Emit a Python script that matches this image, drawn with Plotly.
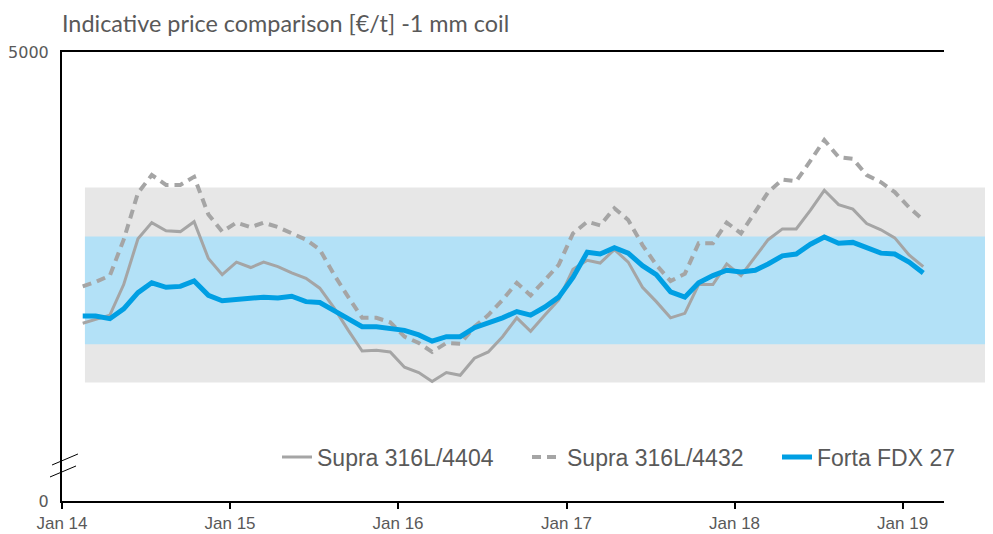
import pandas as pd
import plotly.graph_objects as go

# Monthly observations (mid-month), Feb 2014 - Feb 2019
dates = pd.date_range("2014-02-01", "2019-02-01", freq="MS") + pd.Timedelta(days=14)

supra_4404 = [1980, 2020, 2070, 2410, 2920, 3100, 3010, 3000, 3110, 2700,
              2520, 2660, 2600, 2660, 2610, 2540, 2480, 2370, 2150, 1900,
              1670, 1680, 1660, 1490, 1430, 1330, 1430, 1400, 1590, 1660,
              1830, 2040, 1890, 2070, 2240, 2580, 2680, 2650, 2800, 2660,
              2380, 2220, 2040, 2090, 2410, 2410, 2640, 2510, 2720, 2910,
              3030, 3030, 3240, 3460, 3300, 3250, 3090, 3020, 2930, 2740, 2610]

supra_4432 = [2390, 2440, 2510, 2910, 3430, 3630, 3520, 3520, 3610, 3190,
              3000, 3100, 3050, 3100, 3050, 2980, 2910, 2800, 2520, 2270,
              2040, 2040, 1990, 1830, 1760, 1660, 1760, 1750, 1940, 2070,
              2240, 2430, 2290, 2460, 2630, 2980, 3110, 3070, 3260, 3130,
              2850, 2630, 2450, 2530, 2870, 2870, 3100, 2980, 3220, 3440,
              3580, 3560, 3790, 4020, 3830, 3810, 3630, 3550, 3440, 3270, 3130]

forta_fdx27 = [2060, 2060, 2030, 2140, 2320, 2430, 2380, 2390, 2450, 2290,
               2230, 2240, 2250, 2270, 2260, 2280, 2220, 2210, 2120, 2030,
               1940, 1940, 1920, 1900, 1850, 1780, 1830, 1830, 1930, 1980,
               2040, 2110, 2070, 2160, 2270, 2490, 2770, 2750, 2820, 2760,
               2620, 2520, 2330, 2270, 2430, 2510, 2570, 2550, 2570, 2640,
               2730, 2750, 2860, 2940, 2870, 2880, 2820, 2760, 2750, 2660, 2540]

series_names = ["Supra 316L/4404", "Supra 316L/4432", "Forta FDX 27"]

# Price corridors
gray_band = [1320, 3490]
blue_band = [1745, 2945]

y_ticks = [0, 5000]
y_tick_text = ["0", "5000"]

GRAY = "#a5a5a5"
BLUE = "#009fe3"
TXT = "#595959"

# page body has an 8px default margin -> compensate
OFF = 8
W, H = 993, 534
PL, PT, PW, PH = 62 - OFF, 52 - OFF, 882, 449

fig = go.Figure()
fig.add_trace(go.Scatter(x=dates, y=supra_4404, mode="lines", name=series_names[0],
                         line=dict(color=GRAY, width=3)))
fig.add_trace(go.Scatter(x=dates, y=supra_4432, mode="lines", name=series_names[1],
                         line=dict(color=GRAY, width=4, dash="9px,6px")))
fig.add_trace(go.Scatter(x=dates, y=forta_fdx27, mode="lines", name=series_names[2],
                         line=dict(color=BLUE, width=5)))

# bands
fig.add_shape(type="rect", xref="paper", yref="y", x0=0.026, x1=1.047,
              y0=gray_band[0], y1=gray_band[1], fillcolor="#e7e7e7", line_width=0, layer="below")
fig.add_shape(type="rect", xref="paper", yref="y", x0=0.026, x1=1.06,
              y0=blue_band[0], y1=blue_band[1], fillcolor="#b3e1f7", line_width=0, layer="below")

# axis break marks
for (xa, ya, xb, yb) in [(-0.0136, 0.0535, 0.0159, 0.078), (-0.0113, 0.0802, 0.0181, 0.1047)]:
    fig.add_shape(type="line", xref="paper", yref="paper", x0=xa, y0=ya, x1=xb, y1=yb,
                  line=dict(color="black", width=1))

fig.update_layout(
    width=W, height=H,
    margin=dict(l=PL, r=W - PL - PW, t=PT, b=H - PT - PH, autoexpand=False),
    paper_bgcolor="white", plot_bgcolor="white",
    title=dict(text="Indicative price comparison [€/t] -1 mm coil",
               font=dict(family="Lato", size=23.4, color=TXT),
               x=(62 - OFF) / W, xanchor="left", xref="container",
               y=1 - (24 - OFF) / H, yanchor="middle", yref="container"),
    font=dict(family="Liberation Sans", color=TXT),
    showlegend=True,
    legend=dict(orientation="h", x=(277 - 62) / 882, xanchor="left", y=0.098, yanchor="middle",
                bgcolor="rgba(0,0,0,0)", font=dict(size=23, color=TXT),
                itemwidth=30, entrywidth=205, entrywidthmode="pixels"),
    xaxis=dict(type="date", range=["2014-01-01", "2019-04-01"], automargin=False,
               dtick="M12", tick0="2014-01-01", tickformat="%b %y",
               ticks="outside", ticklen=6, tickwidth=1.5, tickcolor="black",
               showline=True, linecolor="black", linewidth=2, mirror=True,
               showgrid=False, zeroline=False,
               tickfont=dict(size=17, color=TXT)),
    yaxis=dict(range=[0, 5000], tickvals=y_ticks, ticktext=y_tick_text, automargin=False,
               showline=True, linecolor="black", linewidth=2,
               showgrid=False, zeroline=False, ticks="",
               tickfont=dict(family="DejaVu Sans", size=16, color=TXT), ticklabelstandoff=8),
)

fig.write_html("out.html")
